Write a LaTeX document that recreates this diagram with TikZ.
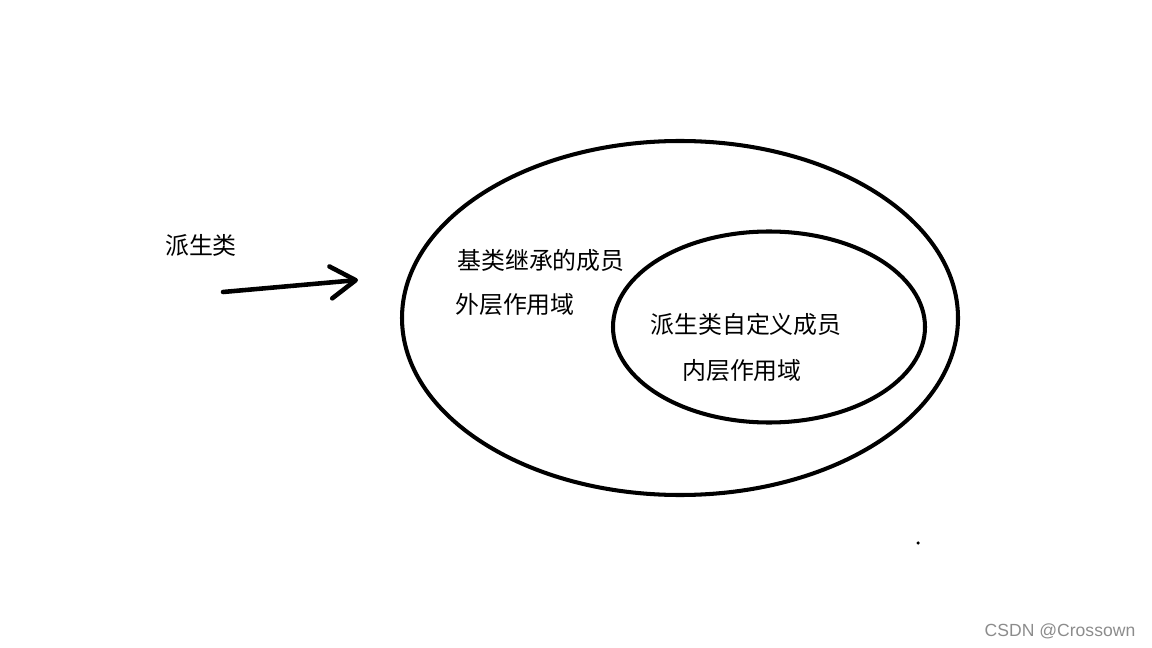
\documentclass[tikz,border=0pt]{standalone}
\usepackage{fontspec}
\newfontfamily\cjk{Noto Sans CJK SC}
\newfontfamily\wmfont{Liberation Sans}
\usetikzlibrary{shapes.geometric,arrows.meta}
\tikzset{
  ring/.style={draw, ellipse, line width=2.3pt, inner sep=0pt},
  label/.style={font=\cjk\fontsize{13.6}{16}\selectfont, inner sep=0pt},
}
\begin{document}
\begin{tikzpicture}[x=0.02cm, y=-0.02cm]
  \useasboundingbox (0,0) rectangle (1152,648);
  % Ellipsen: aussen und innen
  \node[ring, minimum width=556*0.02cm, minimum height=354*0.02cm] (outer) at (680,318) {};
  \node[ring, minimum width=312*0.02cm, minimum height=191*0.02cm] (inner) at (769,327) {};

  % Texte
  \node[label] (derived) at (201,245) {派生类};
  \node[label] (basemem) at (541,260) {基类继承的成员};
  \node[label] (outerscope) at (515,305) {外层作用域};
  \node[label] (ownmem) at (746,324) {派生类自定义成员};
  \node[label] (innerscope) at (742,371) {内层作用域};

  % Pfeil
  \coordinate (arrowstart) at (223,292);
  \coordinate (arrowend) at (358,280);
  \draw[line width=2.6pt, line cap=round,
        -{Straight Barb[length=0.5cm, width=0.64cm, line cap=round, line join=round]}]
        (arrowstart) -- (arrowend);

  % Punkt und Wasserzeichen
  \fill (918,543) circle (1pt);
  \node[font=\wmfont\fontsize{10}{12}\selectfont, text=black!45, inner sep=0pt] (watermark) at (1060,631) {CSDN @Crossown};
\end{tikzpicture}
\end{document}
